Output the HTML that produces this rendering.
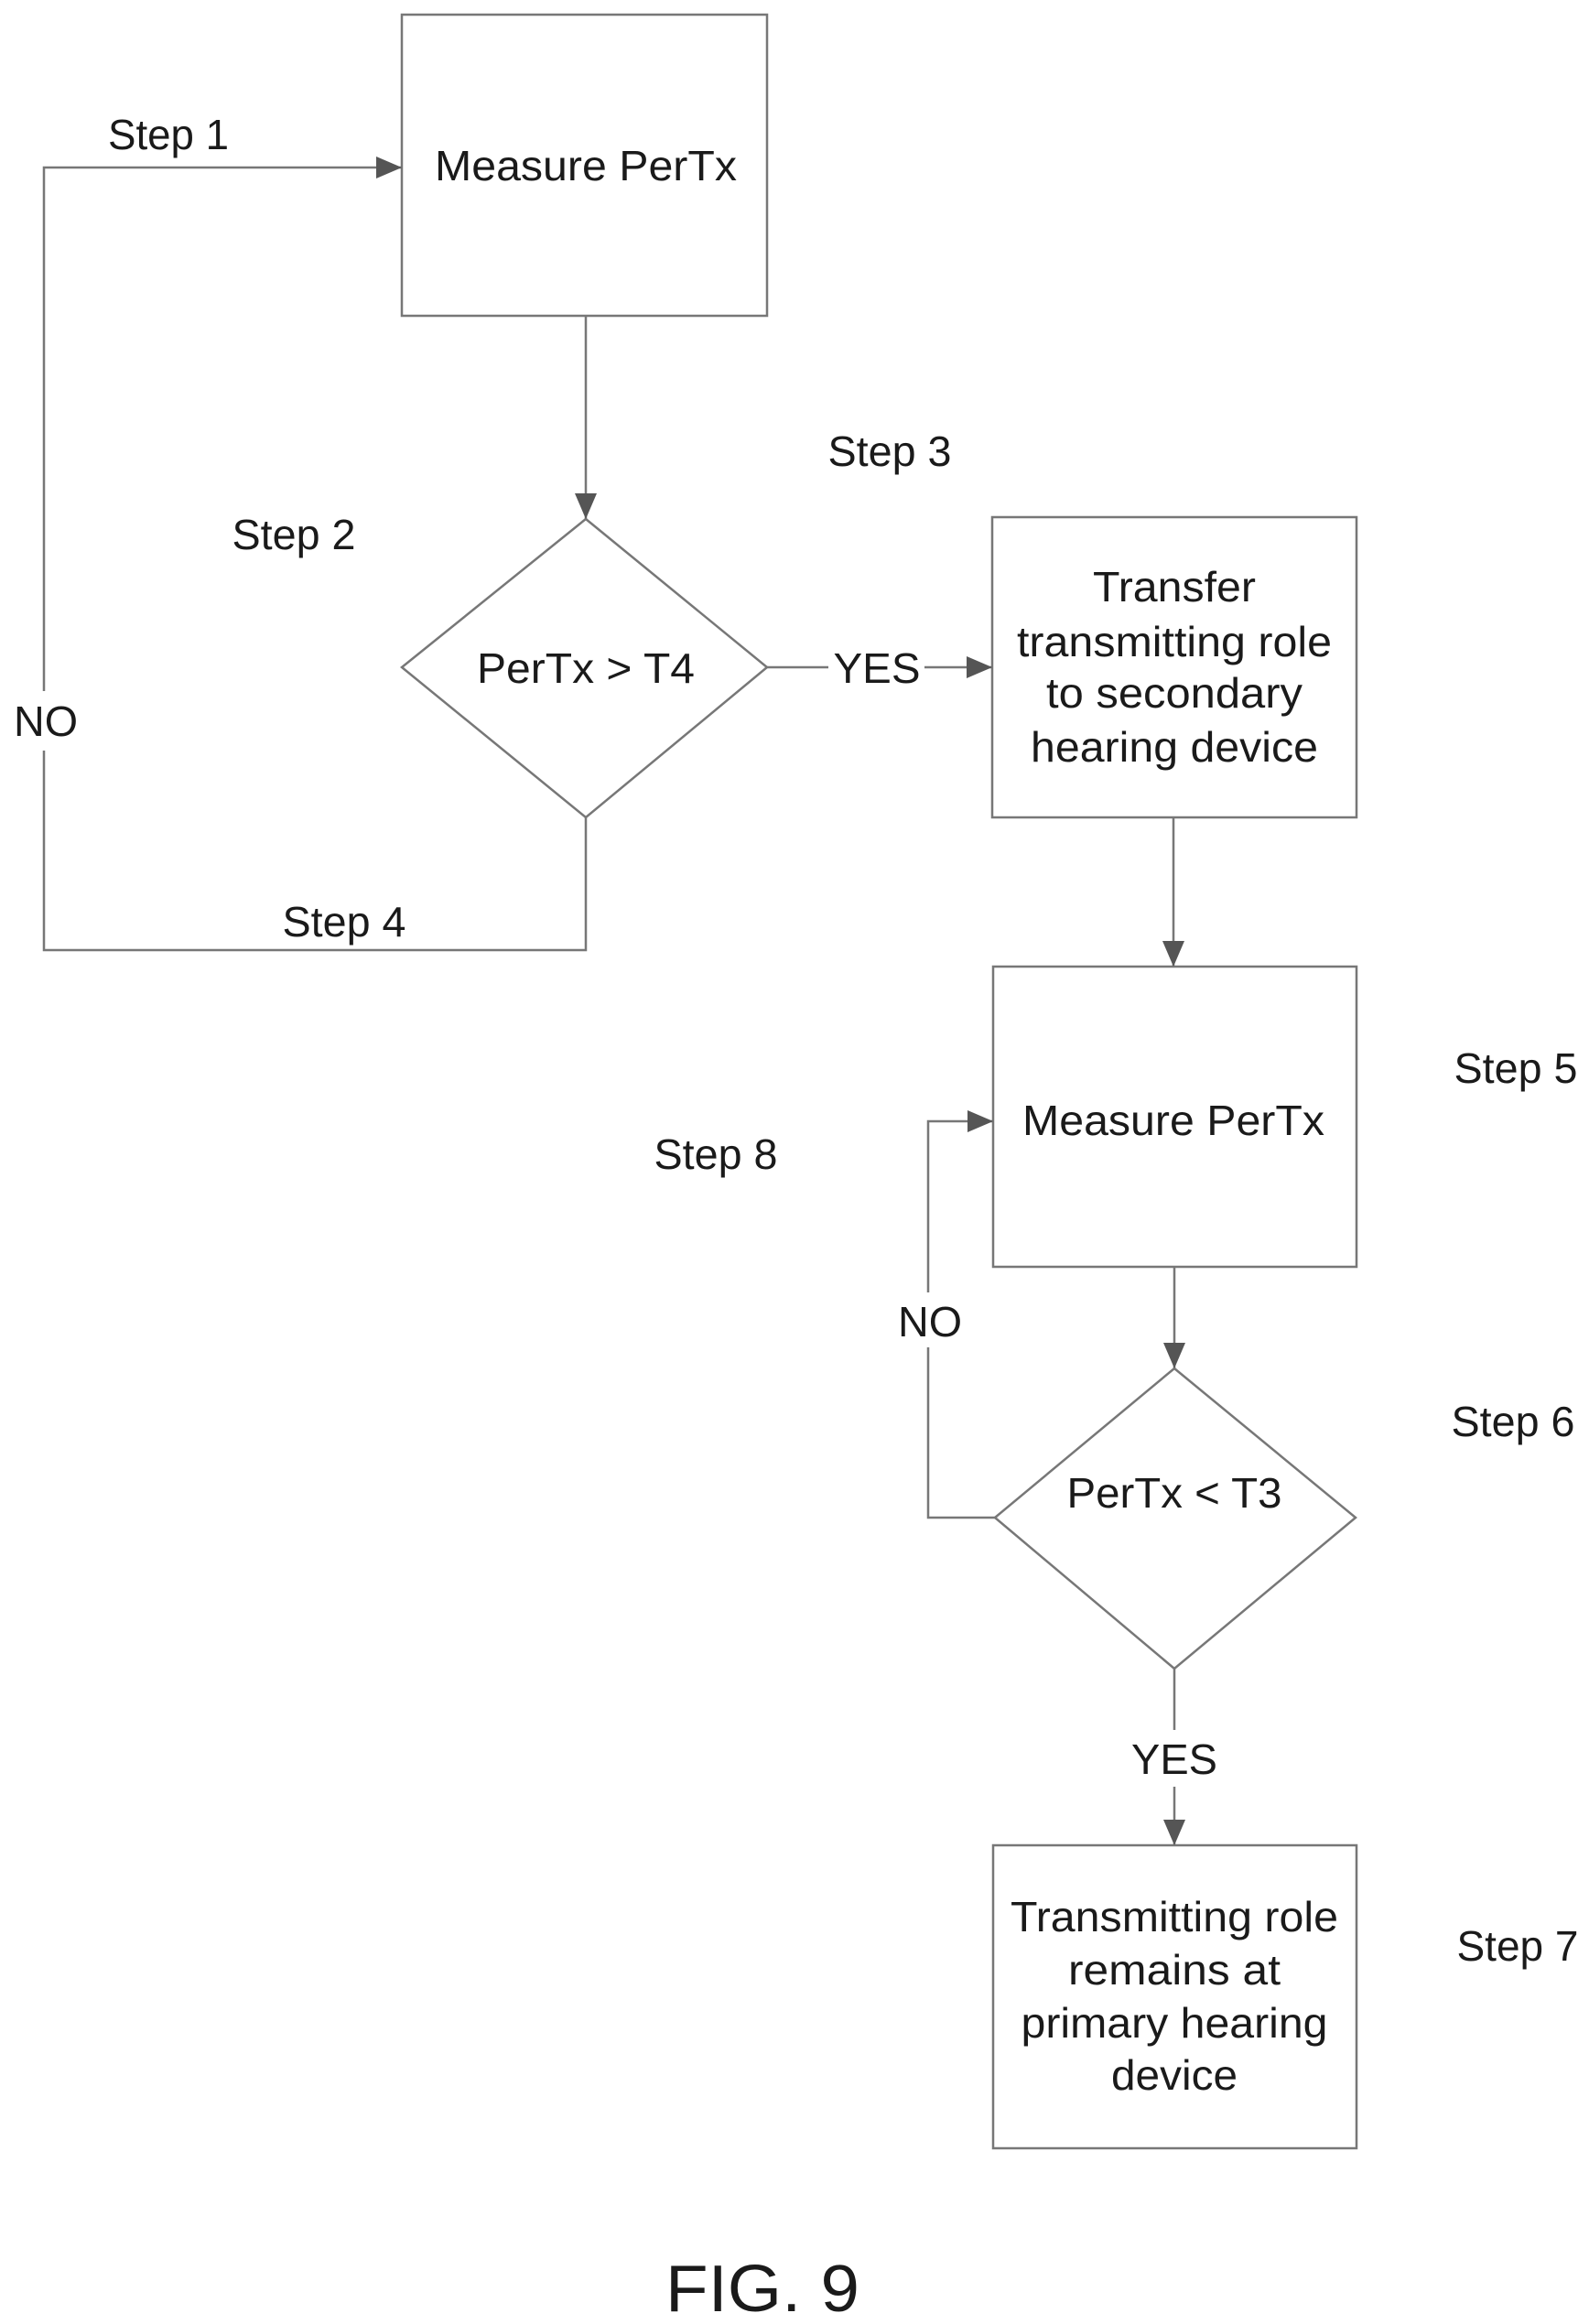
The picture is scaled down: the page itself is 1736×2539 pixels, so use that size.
<!DOCTYPE html>
<html><head><meta charset="utf-8"><style>html,body{margin:0;padding:0;background:#fff}svg{display:block}</style></head>
<body>
<svg width="1736" height="2539" viewBox="0 0 1736 2539" xmlns="http://www.w3.org/2000/svg">
<defs>
<marker id="a" markerWidth="28" markerHeight="24" refX="28" refY="12" orient="auto" markerUnits="userSpaceOnUse">
<path d="M0,0 L28,12 L0,24 Z" fill="#555"/></marker>
</defs>
<g fill="none" stroke="#777" stroke-width="2.5">
<rect x="439" y="16" width="399" height="329"/>
<polygon points="640,567 838,729 640,893 439,729"/>
<rect x="1084" y="565" width="398" height="328"/>
<rect x="1085" y="1056" width="397" height="328"/>
<polygon points="1283,1495 1481,1658 1283,1823 1087,1658"/>
<rect x="1085" y="2016" width="397" height="331"/>
<path d="M640,893 V1038 H48 V820"/>
<path d="M48,755 V183 H439" marker-end="url(#a)"/>
<path d="M640,345 V567" marker-end="url(#a)"/>
<path d="M838,729 H905"/>
<path d="M1010,729 H1084" marker-end="url(#a)"/>
<path d="M1282,893 V1056" marker-end="url(#a)"/>
<path d="M1283,1384 V1495" marker-end="url(#a)"/>
<path d="M1087,1658 H1014 V1472"/>
<path d="M1014,1412 V1225 H1085" marker-end="url(#a)"/>
<path d="M1283,1823 V1890"/>
<path d="M1283,1952 V2016" marker-end="url(#a)"/>
</g>
<g font-family="Liberation Sans, sans-serif" fill="#1a1a1a" text-anchor="middle" font-size="46">
<text x="184" y="163" textLength="132" lengthAdjust="spacingAndGlyphs">Step 1</text>
<text x="640" y="197" textLength="330" lengthAdjust="spacingAndGlyphs">Measure PerTx</text>
<text x="321" y="600" textLength="135" lengthAdjust="spacingAndGlyphs">Step 2</text>
<text x="972" y="509" textLength="135" lengthAdjust="spacingAndGlyphs">Step 3</text>
<text x="640" y="746" textLength="238" lengthAdjust="spacingAndGlyphs">PerTx &gt; T4</text>
<text x="958" y="746" textLength="95" lengthAdjust="spacingAndGlyphs">YES</text>
<text x="50" y="804" textLength="70" lengthAdjust="spacingAndGlyphs">NO</text>
<text x="376" y="1023" textLength="135" lengthAdjust="spacingAndGlyphs">Step 4</text>
<text x="1283" y="657" textLength="178" lengthAdjust="spacingAndGlyphs">Transfer</text>
<text x="1283" y="717" textLength="344" lengthAdjust="spacingAndGlyphs">transmitting role</text>
<text x="1283" y="773" textLength="280" lengthAdjust="spacingAndGlyphs">to secondary</text>
<text x="1283" y="832" textLength="314" lengthAdjust="spacingAndGlyphs">hearing device</text>
<text x="1282" y="1240" textLength="330" lengthAdjust="spacingAndGlyphs">Measure PerTx</text>
<text x="1656" y="1183" textLength="135" lengthAdjust="spacingAndGlyphs">Step 5</text>
<text x="782" y="1277" textLength="135" lengthAdjust="spacingAndGlyphs">Step 8</text>
<text x="1016" y="1460" textLength="70" lengthAdjust="spacingAndGlyphs">NO</text>
<text x="1283" y="1647" textLength="235" lengthAdjust="spacingAndGlyphs">PerTx &lt; T3</text>
<text x="1653" y="1569" textLength="135" lengthAdjust="spacingAndGlyphs">Step 6</text>
<text x="1283" y="1938" textLength="94" lengthAdjust="spacingAndGlyphs">YES</text>
<text x="1283" y="2110" textLength="358" lengthAdjust="spacingAndGlyphs">Transmitting role</text>
<text x="1283" y="2168" textLength="232" lengthAdjust="spacingAndGlyphs">remains at</text>
<text x="1283" y="2226" textLength="335" lengthAdjust="spacingAndGlyphs">primary hearing</text>
<text x="1283" y="2283" textLength="138" lengthAdjust="spacingAndGlyphs">device</text>
<text x="1658" y="2142" textLength="133" lengthAdjust="spacingAndGlyphs">Step 7</text>
<text x="833" y="2525" font-size="72" textLength="212" lengthAdjust="spacingAndGlyphs">FIG. 9</text>
</g>
</svg>
</body></html>
